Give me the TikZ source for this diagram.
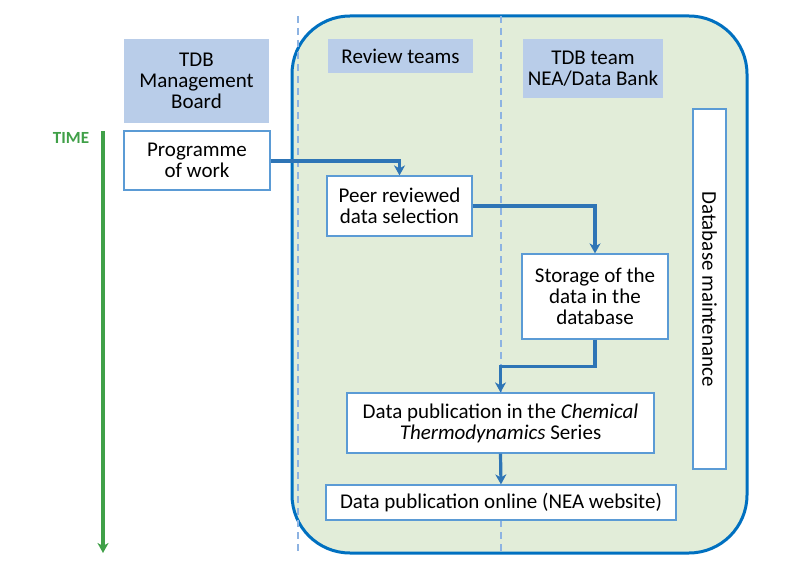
\documentclass[tikz,border=0pt]{standalone}
\usepackage{fontspec}
\setmainfont{Carlito}
\usepackage{tikz}
\usetikzlibrary{calc,arrows.meta}

\definecolor{lanefill}{RGB}{226,237,217}
\definecolor{laneblue}{RGB}{0,112,192}
\definecolor{linkblue}{RGB}{46,117,182}
\definecolor{headfill}{RGB}{185,205,233}
\definecolor{boxline}{RGB}{91,155,213}
\definecolor{dashblue}{RGB}{141,179,226}
\definecolor{timegreen}{RGB}{64,160,72}

\tikzset{
  head/.style={fill=headfill,inner sep=0pt,align=center,
    font=\fontsize{21}{21}\selectfont},
  task/.style={draw=boxline,line width=1.2pt,fill=white,inner sep=0pt,align=center,
    font=\fontsize{21}{21}\selectfont},
  link/.style={draw=linkblue,line width=3.2pt,-{Stealth[length=10pt,width=11pt,inset=3pt]}},
  lanesep/.style={draw=dashblue,line width=1.8pt,dash pattern=on 7pt off 5pt}
}

\begin{document}
\begin{tikzpicture}[x=1pt,y=-1pt]
              \useasboundingbox (0,0) rectangle (787,575);
              \filldraw[fill=lanefill,draw=laneblue,line width=3pt,rounded corners=58pt] (292,16) rectangle (747,553);
              \draw[lanesep] (298,16) -- (298,553);
              \draw[lanesep] (501,16) -- (501,553);
              % headers
              \node[head,minimum width=145,minimum height=84](mgmt)at(196.5,81){TDB\\Management\\Board};
              \node[head,minimum width=145,minimum height=34](review)at(400.5,56){Review teams};
              \node[head,minimum width=140,minimum height=59](nea)at(593,68.5){TDB team\\NEA/Data Bank};
              % time axis
              \node[font=\bfseries\fontsize{17}{17}\selectfont,text=timegreen](time)at(71,138){TIME};
              \coordinate (t0) at (103,131);
              \coordinate (t1) at (103,553);
              \draw[draw=timegreen,line width=3.2pt,-{Stealth[length=10pt,width=11pt,inset=3pt]}] (t0) -- (t1);
              % tasks
              \node[task,minimum width=146,minimum height=59](prog)at(197,160.5){Programme\\of work};
              \node[task,minimum width=145,minimum height=60](peer)at(399.5,206){Peer reviewed\\data selection};
              \node[task,minimum width=146,minimum height=85](store)at(595,296.5){Storage of the\\data in the\\database};
              \node[task,minimum width=307,minimum height=60](book)at(500.5,423){Data publication in the \textit{Chemical}\\\textit{Thermodynamics} Series};
              \node[task,minimum width=350,minimum height=35](web)at(501,502.5){Data publication online (NEA website)};
              \node[task,minimum width=33,minimum height=360](maint)at(709.5,289){};
              \node[rotate=-90,font=\fontsize{21}{21}\selectfont](mainttext)at(maint.center){Database maintenance};
              % links
              \draw[link] (prog.east |- 0,161) -| (peer.north);
              \draw[link] (peer.east) -| (store.north);
              \draw[link] (store.south) -- ++(0,27) -| (book.north);
              \draw[link] (book.south) -- (web.north);
\end{tikzpicture}
\end{document}
